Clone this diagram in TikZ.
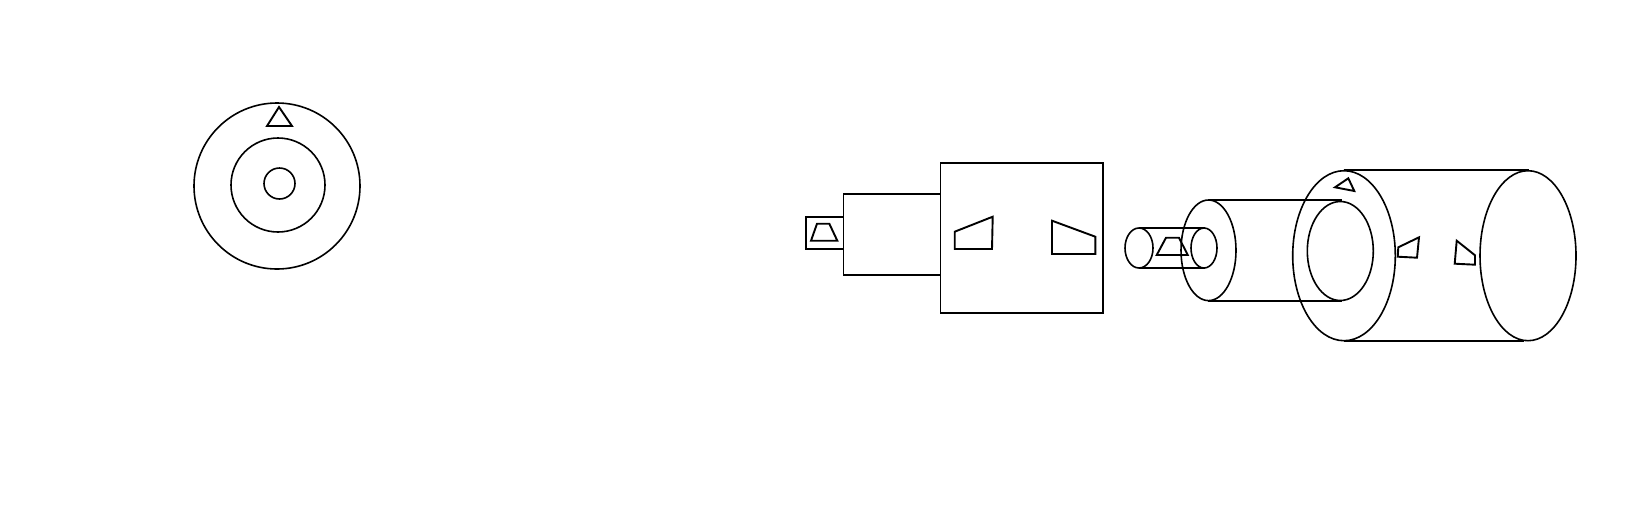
\documentclass[tikz,border=0pt]{standalone}
\usepackage{amsmath}
\usepackage{tikz}

\tikzset{
  outline/.style={draw,line width=1.9pt,line join=miter},
  thinoutline/.style={draw,line width=1.6pt}
}

\begin{document}
\begin{tikzpicture}[x=1pt,y=-1pt]
      \useasboundingbox (0,0) rectangle (1640,520);
      % end view
      \draw[thinoutline] (277,186) circle (83);
      \draw[thinoutline] (278,185) circle (47);
      \draw[thinoutline] (279.5,183.5) circle (15.5);
      \draw[outline] (279,107) -- (267,126) -- (292,126) -- cycle;
      % side view
      \draw[outline] (806,217) rectangle (843.5,249);
      \draw[outline] (843.5,194) rectangle (940.5,275);
      \draw[outline] (940.5,163) rectangle (1103,313);
      \draw[outline] (811,240.7) -- (817,223.7) -- (829.3,223.7) -- (837.3,240.7) -- cycle;
      \draw[outline] (954.7,231.7) -- (992.7,216.7) -- (992,249) -- (954.7,249) -- cycle;
      \draw[outline] (1052,220.7) -- (1095.3,236.7) -- (1095.3,254) -- (1052,254) -- cycle;
      % shaft
      \draw[thinoutline] (1139,248) ellipse [x radius=14,y radius=20];
      \draw[thinoutline] (1204,248) ellipse [x radius=13,y radius=20];
      \draw[outline] (1139,228) -- (1205,228);
      \draw[outline] (1139,268) -- (1205,268);
      \draw[outline] (1156.7,255) -- (1166,237.7) -- (1179,237.7) -- (1187.7,255) -- cycle;
      % middle cylinder
      \draw[thinoutline] (1208.5,250.3) ellipse [x radius=27.5,y radius=50.3];
      \draw[outline] (1209,200) -- (1342,200);
      \draw[outline] (1208,300.7) -- (1342,300.7);
      % outer cylinder
      \draw[thinoutline] (1344,255.7) ellipse [x radius=51.3,y radius=85];
      \draw[thinoutline] (1340.3,251) ellipse [x radius=33,y radius=49.5];
      \draw[thinoutline] (1528,255.7) ellipse [x radius=48,y radius=85];
      \draw[outline] (1344,170) -- (1529,170);
      \draw[outline] (1344,340.7) -- (1524,340.7);
      \draw[outline] (1335,187.3) -- (1348.3,178.3) -- (1354.3,191) -- cycle;
      \draw[outline] (1398.3,247.3) -- (1419,237.3) -- (1417,257.7) -- (1397.7,256.7) -- cycle;
      \draw[outline] (1456.7,240.7) -- (1475,255.3) -- (1475,264.7) -- (1454.7,263.7) -- cycle;
\end{tikzpicture}
\end{document}
